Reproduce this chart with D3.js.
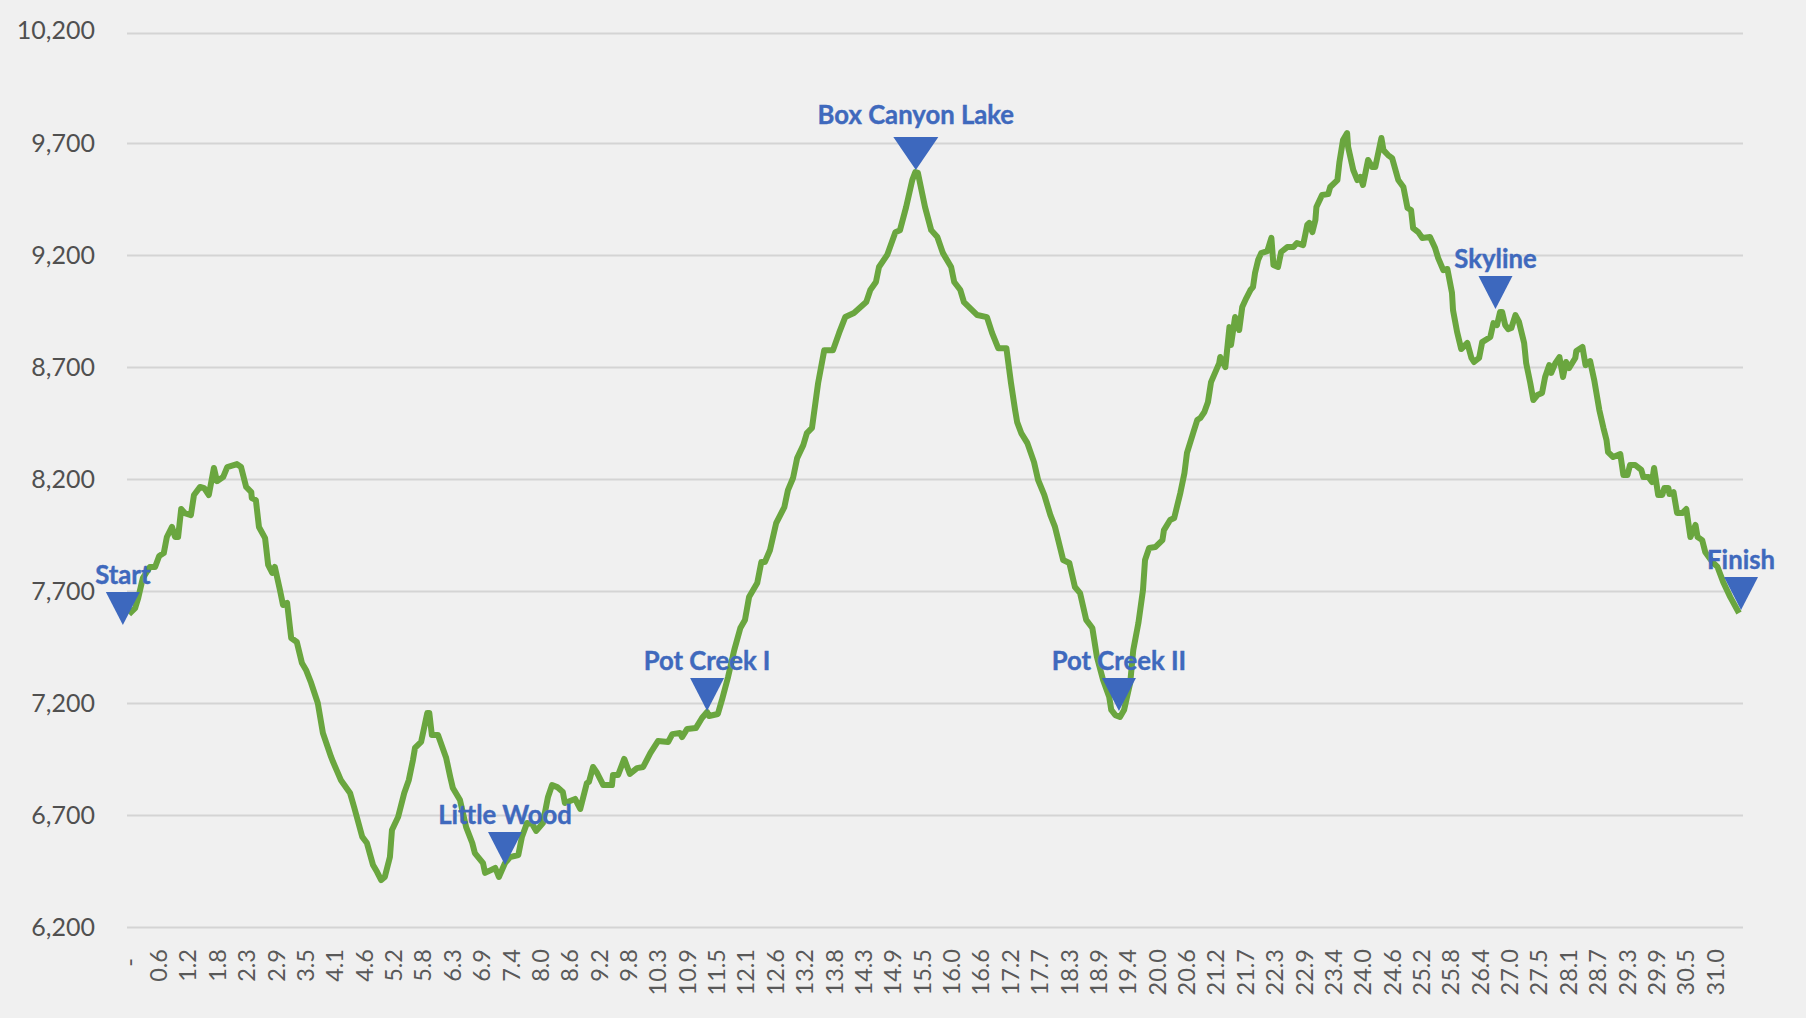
<!DOCTYPE html>
<html>
<head>
<meta charset="utf-8">
<script src="https://cdn.jsdelivr.net/npm/d3@7"></script>
<style>
  html, body { margin: 0; padding: 0; background: #f0f0f0; }
  svg { display: block; }
  text { font-family: Lato, "Open Sans", sans-serif; }
</style>
</head>
<body>
<div id="chart"></div>
<script>
var tickLabels = ["-", "0.6", "1.2", "1.8", "2.3", "2.9", "3.5", "4.1", "4.6", "5.2", "5.8", "6.3", "6.9", "7.4",
    "8.0", "8.6", "9.2", "9.8", "10.3", "10.9", "11.5", "12.1", "12.6", "13.2", "13.8", "14.3", "14.9", "15.5",
    "16.0", "16.6", "17.2", "17.7", "18.3", "18.9", "19.4", "20.0", "20.6", "21.2", "21.7", "22.3", "22.9", "23.4",
    "24.0", "24.6", "25.2", "25.8", "26.4", "27.0", "27.5", "28.1", "28.7", "29.3", "29.9", "30.5", "31.0"];

var elevationTicks = [6200, 6700, 7200, 7700, 8200, 8700, 9200, 9700, 10200];

// mile by mile
var miles = [0, .12, .18, .27, .41, .51, .59, .68, .74, .84, .90, .96, 1.02, 1.09, 1.21, 1.27, 1.39, 1.47, 1.56, 1.66,
    1.72, 1.84, 1.92, 2.11, 2.19, 2.29, 2.39, 2.40, 2.48, 2.54, 2.66, 2.72, 2.80, 2.85, 2.95, 3.01, 3.09, 3.17, 3.28, 3.38,
    3.46, 3.56, 3.69, 3.79, 3.95, 3.99, 4.14, 4.32, 4.40, 4.56, 4.65, 4.77, 4.85, 4.93, 5.00, 5.10, 5.14, 5.26, 5.38, 5.47,
    5.55, 5.59, 5.71, 5.83, 5.87, 5.92, 6.04, 6.20, 6.28, 6.33, 6.47, 6.59, 6.71, 6.76, 6.92, 6.96, 7.16, 7.23, 7.35, 7.45,
    7.61, 7.68, 7.78, 7.88, 7.96, 8.09, 8.19, 8.27, 8.37, 8.48, 8.52, 8.72, 8.82, 8.95, 8.99, 9.07, 9.15, 9.27, 9.44, 9.46,
    9.56, 9.68, 9.79, 9.93, 10.05, 10.19, 10.34, 10.54, 10.62, 10.77, 10.81, 10.91, 11.08, 11.20, 11.30, 11.34, 11.51, 11.59, 11.71, 11.83,
    11.95, 12.04, 12.12, 12.28, 12.36, 12.43, 12.53, 12.65, 12.81, 12.88, 12.98, 13.06, 13.18, 13.25, 13.35, 13.47, 13.59, 13.76, 13.88, 14.00,
    14.17, 14.41, 14.49, 14.60, 14.66, 14.82, 14.98, 15.07, 15.19, 15.31, 15.37, 15.42, 15.56, 15.68, 15.80, 15.91, 16.07, 16.13, 16.25, 16.32,
    16.58, 16.77, 16.87, 16.99, 17.15, 17.24, 17.32, 17.36, 17.44, 17.56, 17.69, 17.77, 17.89, 18.01, 18.10, 18.26, 18.38, 18.49, 18.59, 18.71,
    18.83, 18.92, 19.04, 19.16, 19.20, 19.28, 19.37, 19.45, 19.57, 19.63, 19.73, 19.82, 19.86, 19.94, 20.06, 20.20, 20.23, 20.35, 20.43, 20.55,
    20.63, 20.68, 20.80, 20.88, 20.94, 21.02, 21.09, 21.15, 21.31, 21.33, 21.43, 21.51, 21.54, 21.62, 21.70, 21.76, 21.84, 21.92, 21.97, 22.01,
    22.07, 22.13, 22.25, 22.33, 22.37, 22.46, 22.52, 22.64, 22.76, 22.83, 22.95, 23.03, 23.07, 23.13, 23.19, 23.21, 23.32, 23.44, 23.48, 23.62,
    23.66, 23.73, 23.81, 23.83, 23.93, 24.01, 24.07, 24.12, 24.22, 24.30, 24.36, 24.48, 24.52, 24.61, 24.69, 24.81, 24.91, 24.99, 25.06, 25.10,
    25.20, 25.28, 25.43, 25.53, 25.59, 25.69, 25.77, 25.86, 25.88, 25.96, 26.04, 26.16, 26.24, 26.29, 26.39, 26.45, 26.61, 26.67, 26.74, 26.80,
    26.84, 26.90, 26.96, 27.02, 27.10, 27.17, 27.27, 27.31, 27.39, 27.45, 27.53, 27.62, 27.68, 27.76, 27.80, 27.88, 27.96, 28.03, 28.09, 28.15,
    28.27, 28.29, 28.41, 28.47, 28.56, 28.64, 28.74, 28.82, 28.88, 28.91, 29.01, 29.15, 29.21, 29.29, 29.34, 29.44, 29.56, 29.60, 29.70, 29.77,
    29.81, 29.89, 29.97, 30.01, 30.09, 30.11, 30.19, 30.26, 30.36, 30.44, 30.52, 30.62, 30.66, 30.75, 30.81, 30.95, 31.05, 31.16, 31.30, 31.47];

var elevation = [7600, 7627, 7672, 7761, 7811, 7811, 7860, 7873, 7945, 7990, 7945, 7945, 8070, 8052, 8043, 8133, 8169, 8164, 8133, 8254,
    8195, 8213, 8258, 8271, 8258, 8169, 8146, 8119, 8110, 7990, 7940, 7820, 7784, 7811, 7708, 7641, 7650, 7493, 7475, 7381,
    7350, 7292, 7202, 7068, 6961, 6938, 6858, 6800, 6737, 6603, 6576, 6477, 6446, 6410, 6424, 6513, 6634, 6692, 6800, 6858,
    6947, 7001, 7028, 7157, 7157, 7059, 7059, 6956, 6871, 6822, 6768, 6647, 6576, 6531, 6486, 6442, 6464, 6424, 6486, 6513,
    6522, 6603, 6665, 6661, 6630, 6665, 6782, 6835, 6826, 6804, 6755, 6773, 6728, 6844, 6849, 6916, 6889, 6835, 6835, 6880,
    6880, 6952, 6885, 6911, 6916, 6978, 7032, 7028, 7063, 7068, 7050, 7086, 7090, 7135, 7162, 7144, 7153, 7216, 7319, 7439,
    7538, 7574, 7676, 7739, 7833, 7833, 7887, 8007, 8079, 8155, 8209, 8298, 8356, 8410, 8433, 8634, 8781, 8781, 8858, 8929,
    8947, 8996, 9050, 9086, 9153, 9207, 9309, 9318, 9421, 9542, 9578, 9574, 9421, 9318, 9287, 9215, 9153, 9086, 9050, 8996,
    8938, 8929, 8858, 8790, 8790, 8634, 8513, 8459, 8410, 8365, 8280, 8200, 8133, 8043, 7990, 7842, 7829, 7721, 7694, 7574,
    7538, 7408, 7305, 7229, 7171, 7148, 7140, 7171, 7292, 7439, 7560, 7708, 7842, 7896, 7900, 7931, 7976, 8021, 8030, 8142,
    8231, 8321, 8410, 8468, 8477, 8504, 8549, 8638, 8723, 8750, 8705, 8884, 8804, 8929, 8871, 8974, 9014, 9050, 9063, 9126,
    9184, 9215, 9224, 9283, 9162, 9153, 9220, 9242, 9242, 9260, 9251, 9341, 9350, 9309, 9363, 9421, 9475, 9479, 9511, 9542,
    9623, 9721, 9752, 9690, 9587, 9542, 9556, 9520, 9632, 9600, 9600, 9730, 9676, 9654, 9640, 9542, 9511, 9417, 9408, 9327,
    9309, 9283, 9287, 9238, 9193, 9139, 9144, 9037, 8960, 8862, 8786, 8813, 8746, 8728, 8746, 8817, 8840, 8902, 8893, 8952,
    8952, 8893, 8875, 8880, 8938, 8907, 8813, 8723, 8634, 8558, 8580, 8589, 8661, 8714, 8679, 8723, 8750, 8661, 8728, 8701,
    8746, 8777, 8795, 8714, 8732, 8647, 8513, 8433, 8379, 8325, 8303, 8316, 8222, 8222, 8267, 8267, 8245, 8213, 8213, 8191,
    8254, 8133, 8133, 8164, 8164, 8137, 8146, 8052, 8052, 8070, 7945, 7999, 7945, 7931, 7878, 7833, 7811, 7744, 7676, 7605];

var placeNames = ["Start", "Little Wood", "Pot Creek I", "Box Canyon Lake", "Pot Creek II", "Skyline", "Finish"];
var placeMiles = [-0.12, 7.35, 11.30, 15.38, 19.35, 26.71, 31.51];
var placeElevation = [7551, 6477, 7166, 9587, 7166, 8965, 7618];

var width = 1806, height = 1018;

var x = d3.scaleLinear().domain([0, 31.47]).range([129, 1739]);
var y = d3.scaleLinear().domain([6200, 10200]).range([927, 33]);
// the gridlines are 112px apart except the top gap, which is a bit short
var yGrid = d3.scaleLinear().domain([6200, 9700, 10200]).range([927, 143, 33]);

// the labelled ticks sit evenly spaced, "-" at 0 and "31.0" at mile 31
var xTicks = d3.scalePoint().domain(tickLabels).range([x(0), x(31)]);

var svg = d3.select("#chart").append("svg")
    .attr("width", width)
    .attr("height", height)
    .style("background", "#f0f0f0");

var yAxis = svg.append("g")
    .attr("transform", "translate(127,0)")
    .call(d3.axisLeft(yGrid)
        .tickValues(elevationTicks)
        .tickFormat(d3.format(","))
        .tickSize(-1616)
        .tickPadding(32));

yAxis.select(".domain").remove();
yAxis.selectAll("line")
    .attr("stroke", "#d4d4d4")
    .attr("stroke-width", 2);
yAxis.selectAll("text")
    .attr("fill", "#505050")
    .attr("y", function (d) { return d === 10200 ? -3 : 0; })
    .style("font-size", "25px");

var xAxis = svg.append("g")
    .attr("transform", "translate(0,927)")
    .call(d3.axisBottom(xTicks).tickSize(0));

xAxis.select(".domain").remove();
xAxis.selectAll("text")
    .attr("transform", "rotate(-90)")
    .attr("text-anchor", "end")
    .attr("x", function (d) { return d === "-" ? -31 : -22; })
    .attr("y", 0)
    .attr("dy", "0.35em")
    .attr("fill", "#595959")
    .style("font-size", "23.5px");

var line = d3.line()
    .x(function (d, i) { return x(miles[i]); })
    .y(function (d) { return y(d); });

svg.append("path")
    .datum(elevation)
    .attr("fill", "none")
    .attr("stroke", "#6aa63f")
    .attr("stroke-width", 6)
    .attr("stroke-linejoin", "round")
    .attr("d", line);

function markerPath(name, i) {
    var tipX = x(placeMiles[i]), tipY = y(placeElevation[i]);
    var half = name === "Box Canyon Lake" ? 22.5 : 17;
    var p = d3.path();
    p.moveTo(tipX, tipY);
    p.lineTo(tipX - half, tipY - 33);
    p.lineTo(tipX + half, tipY - 33);
    p.closePath();
    return p.toString();
}

svg.append("g").selectAll("path")
    .data(placeNames)
    .join("path")
    .attr("fill", "#3d68be")
    .attr("d", markerPath);

svg.append("g").selectAll("text")
    .data(placeNames)
    .join("text")
    .attr("x", function (d, i) { return x(placeMiles[i]); })
    .attr("y", function (d, i) { return y(placeElevation[i]) - (d === "Box Canyon Lake" ? 46 : 41); })
    .attr("text-anchor", "middle")
    .attr("fill", "#3f69bd")
    .attr("stroke", "#3f69bd")
    .attr("stroke-width", 0.4)
    .style("font-size", "25.7px")
    .style("font-weight", "bold")
    .text(function (d) { return d; });
</script>
</body>
</html>
